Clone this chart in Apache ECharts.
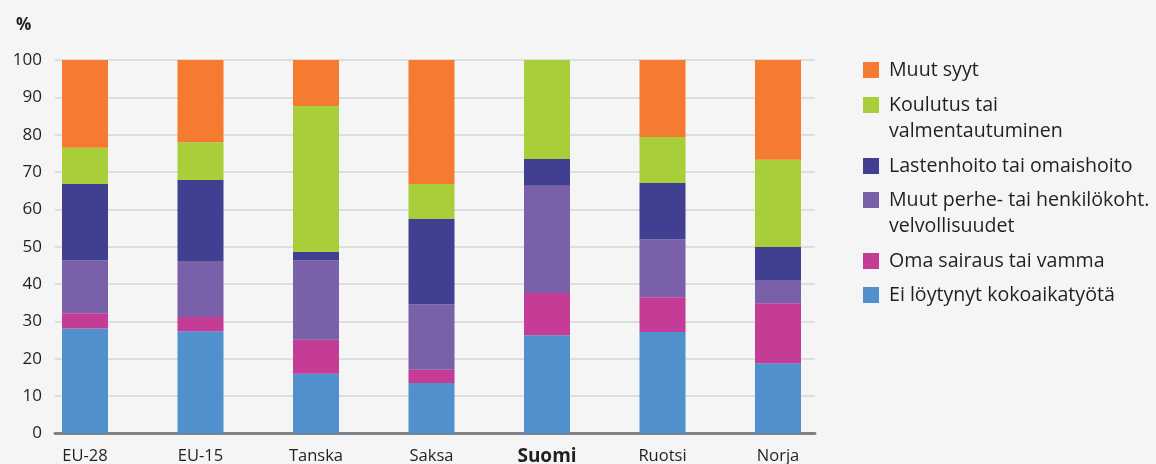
<!DOCTYPE html>
<html>
<head>
<meta charset="utf-8">
<script src="https://cdn.jsdelivr.net/npm/echarts@6/dist/echarts.min.js"></script>
<style>
  html, body { margin: 0; padding: 0; background: #f4f5f4; }
  #chart { width: 1156px; height: 464px; }
</style>
</head>
<body>
<div id="chart"></div>
<script>
var categories = ['EU-28', 'EU-15', 'Tanska', 'Saksa', 'Suomi', 'Ruotsi', 'Norja'];
var yTicks = [0, 10, 20, 30, 40, 50, 60, 70, 80, 90, 100];

// arvot alhaalta ylös
var eiLoytynyt = [28.1, 27.4, 16.0, 13.5, 26.3, 27.2, 18.8];
var omaSairaus = [4.1, 3.8, 9.1, 3.6, 11.3, 9.3, 16.1];
var muutPerhe = [14.1, 15.0, 21.3, 17.5, 28.7, 15.5, 6.2];
var lastenhoito = [20.5, 21.7, 2.2, 22.8, 7.2, 15.1, 8.8];
var koulutus = [9.7, 10.1, 39.1, 9.4, 26.5, 12.3, 23.4];
var muutSyyt = [23.5, 22.0, 12.3, 33.2, 0, 20.6, 26.7];

var font = 'Open Sans';
var txt = '#231f20';

var seriesDefs = [
    { name: 'Ei löytynyt kokoaikatyötä', data: eiLoytynyt, color: '#4f90cd' },
    { name: 'Oma sairaus tai vamma', data: omaSairaus, color: '#c43c96' },
    { name: 'Muut perhe- tai henkilökoht. velvollisuudet', data: muutPerhe, color: '#7a60a9' },
    { name: 'Lastenhoito tai omaishoito', data: lastenhoito, color: '#413f91' },
    { name: 'Koulutus tai valmentautuminen', data: koulutus, color: '#a8ce3a' },
    { name: 'Muut syyt', data: muutSyyt, color: '#f47b30' }
];

// legendan rivit: nimi, teksti, yläreuna
var legendRows = [
    ['Muut syyt', 'Muut syyt', 57],
    ['Koulutus tai valmentautuminen', '\nKoulutus tai\nvalmentautuminen', 66],
    ['Lastenhoito tai omaishoito', 'Lastenhoito tai omaishoito', 153],
    ['Muut perhe- tai henkilökoht. velvollisuudet', '\nMuut perhe- tai henkilökoht.\nvelvollisuudet', 161],
    ['Oma sairaus tai vamma', 'Oma sairaus tai vamma', 248],
    ['Ei löytynyt kokoaikatyötä', 'Ei löytynyt kokoaikatyötä', 282]
];

var myChart = echarts.init(document.getElementById('chart'));

var series = seriesDefs.map(function (s) {
    return {
        name: s.name,
        type: 'bar',
        stack: 'all',
        barWidth: 46,
        xAxisIndex: 0,
        yAxisIndex: 0,
        itemStyle: { color: s.color },
        data: s.data
    };
});

var legends = legendRows.map(function (r) {
    return {
        data: [r[0]],
        orient: 'vertical',
        left: 863,
        top: r[2],
        padding: 0,
        itemWidth: 16,
        itemHeight: 16,
        icon: 'rect',
        selectedMode: false,
        formatter: function () { return r[1]; },
        textStyle: {
            fontFamily: font,
            fontSize: 19.6,
            color: txt,
            lineHeight: 26,
            padding: [0, 0, 0, 5]
        }
    };
});

option = {
    backgroundColor: '#f4f5f4',
    animation: false,
    title: {
        text: '%',
        left: 11,
        top: 12,
        textStyle: { fontFamily: font, fontSize: 17, fontWeight: 'bold', color: txt }
    },
    legend: legends,
    grid: [
        { left: 27.25, right: 320.25, top: 60, bottom: 30.5, outerBoundsMode: 'none' },
        { left: 55, right: 341, top: 60, bottom: 30.5, outerBoundsMode: 'none' }
    ],
    xAxis: [{
        type: 'category',
        gridIndex: 0,
        data: categories,
        axisLine: { show: false },
        axisTick: { show: false },
        axisLabel: {
            margin: 14,
            fontFamily: font,
            fontSize: 16.5,
            color: txt,
            formatter: function (v) {
                return v === 'Suomi' ? '{b|' + v + '}' : v;
            },
            rich: {
                b: { fontFamily: font, fontSize: 19, fontWeight: 'bold', color: txt }
            }
        }
    }, {
        type: 'value',
        gridIndex: 1,
        min: 0,
        max: 1,
        axisLine: { show: true, onZero: false, lineStyle: { color: '#808285', width: 3 } },
        axisTick: { show: false },
        axisLabel: { show: false },
        splitLine: { show: false }
    }],
    yAxis: [{
        type: 'value',
        gridIndex: 0,
        min: 0,
        max: 100,
        show: false
    }, {
        type: 'value',
        gridIndex: 1,
        min: yTicks[0],
        max: yTicks[yTicks.length - 1],
        interval: 10,
        axisLine: { show: false },
        axisTick: { show: false },
        axisLabel: { margin: 13, fontFamily: font, fontSize: 17, color: txt },
        splitLine: { lineStyle: { color: '#dcdddd', width: 2 } }
    }],
    series: series
};

myChart.setOption(option);
</script>
</body>
</html>
